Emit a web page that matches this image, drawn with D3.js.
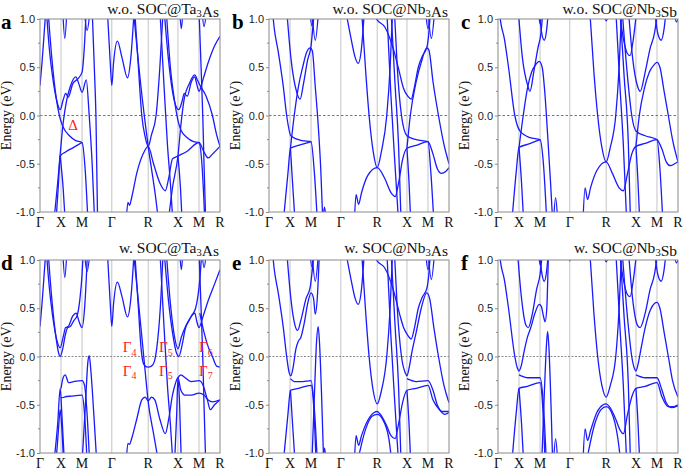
<!DOCTYPE html>
<html>
<head>
<meta charset="utf-8">
<script src="https://cdn.jsdelivr.net/npm/d3@7"></script>
<style>
  body { margin: 0; background: #fff; }
  svg { display: block; }
  .tick text { font-family: "Liberation Sans", Arial, sans-serif; font-size: 11px; fill: #222; }
</style>
</head>
<body>
<div id="container"></div>
<script>
/* CONSTANTS AND GLOBALS */
const width = 685;
const height = 470;
const colX = [40, 269, 498];
const rowY = [19, 260];
const titleY = [13.5, 252.5];
const pw = 180, ph = 193;

/* DATA */
// high symmetry points along the path (k in 2pi/a)
const kTicks = [0, 0.5, 1.0, 1.707, 2.573, 3.28, 3.78, 4.28];
const kLabels = ["Γ", "X", "M", "Γ", "R", "X", "M", "R"];
const eTicks = [-1.0, -0.5, 0.0, 0.5, 1.0];
const eMinor = [-0.75, -0.25, 0.25, 0.75];
const titles = ["w.o. SOC@Ta3As", "w.o. SOC@Nb3As", "w.o. SOC@Nb3Sb",
                "w. SOC@Ta3As", "w. SOC@Nb3As", "w. SOC@Nb3Sb"];
const letters = ["a", "b", "c", "d", "e", "f"];

// bands, each one list of [k, E]
const bandsA = [
  [[0,0.31],[0.05,0.56],[0.1,0.86],[0.14,1.1]],
  [[0.15,1.1],[0.22,0.7],[0.3,0.4],[0.4,0.15],[0.48,0.06],[0.55,0.16],[0.61,0.23],[0.67,0.19],[0.78,0.33],[0.9,0.38],[1.0,0.45],[1.06,0.75],[1.1,1.1]],
  [[0.19,1.1],[0.28,0.6],[0.38,0.2],[0.46,0.0],[0.55,-0.12],[0.7,-0.21],[0.85,-0.26],[1.0,-0.28],[1.08,-0.6],[1.14,-1.1]],
  [[0.33,-1.1],[0.42,-0.7],[0.48,-0.4],[0.55,-0.08],[0.63,0.15],[0.72,0.3],[0.85,0.4],[0.93,0.32],[1.0,0.24],[1.1,0.37],[1.17,0.0],[1.24,-0.5],[1.3,-1.1]],
  [[0.38,-1.1],[0.44,-0.7],[0.48,-0.42],[0.6,-0.38],[0.8,-0.33],[1.0,-0.28]],
  [[0.48,-0.42],[0.55,-0.75],[0.6,-1.1]],
  [[0.54,1.1],[0.59,0.8],[0.64,1.1]],
  [[1.05,1.1],[1.12,0.88],[1.19,1.1]],
  [[1.24,1.1],[1.3,0.4],[1.33,0.0],[1.37,-1.1]],
  [[1.6,1.1],[1.67,0.55],[1.707,0.31],[1.75,0.55],[1.84,0.77],[1.95,0.6],[2.08,0.39],[2.16,0.6],[2.24,1.1]],
  [[2.05,-1.1],[2.09,-0.9],[2.13,-0.93],[2.18,-0.85],[2.3,-0.6],[2.45,-0.4],[2.573,-0.32],[2.7,-0.5],[2.85,-0.7],[2.98,-0.78],[3.06,-0.65],[3.15,-0.45],[3.28,-0.42],[3.5,-0.37],[3.78,-0.28],[3.9,-0.38],[4.0,-0.44],[4.1,-0.4],[4.28,-0.32]],
  [[2.25,1.1],[2.34,0.5],[2.42,0.0],[2.5,-0.22],[2.573,-0.32],[2.65,-0.2],[2.76,0.0],[2.85,0.5],[2.93,1.1]],
  [[2.22,1.1],[2.4,0.3],[2.573,-0.32],[2.75,-0.85],[2.82,-1.1]],
  [[2.85,1.1],[2.95,0.3],[3.03,-0.3],[3.1,-0.7],[3.16,-1.1]],
  [[2.95,1.1],[3.05,0.6],[3.15,0.25],[3.25,0.08],[3.3,0.06],[3.38,0.15],[3.43,0.23],[3.5,0.2],[3.6,0.35],[3.68,0.4],[3.73,0.32],[3.78,0.25],[3.88,0.38],[4.0,0.55],[4.15,0.72],[4.28,0.82]],
  [[3.0,1.1],[3.1,0.5],[3.2,0.15],[3.28,-0.05],[3.35,-0.15],[3.5,-0.23],[3.65,-0.27],[3.78,-0.28],[3.85,-0.5],[3.92,-1.1]],
  [[3.05,-1.1],[3.15,-0.75],[3.28,-0.42],[3.35,-0.1],[3.42,0.15],[3.55,0.33],[3.68,0.42],[3.75,0.36],[3.82,0.3],[3.95,0.2],[4.1,0.0],[4.2,-0.2],[4.28,-0.32]],
  [[3.28,-0.42],[3.34,-0.75],[3.38,-1.1]],
  [[3.78,1.1],[3.83,0.5],[3.87,0.0],[3.9,-0.5],[3.94,-1.1]],
  [[3.32,1.1],[3.36,0.9],[3.4,1.1]],
  [[3.85,1.1],[3.9,0.92],[3.96,1.1]]
];

const bandsB = [
  [[0.08,1.1],[0.12,0.92],[0.22,0.66],[0.34,0.3],[0.42,0.0],[0.52,-0.21],[0.78,-0.26],[1.0,-0.27],[1.08,-0.6],[1.15,-1.1]],
  [[0.34,-1.1],[0.45,-0.6],[0.51,-0.34],[0.7,-0.31],[1.0,-0.27]],
  [[0.51,-0.34],[0.6,0.0],[0.7,0.3],[0.8,0.5],[0.9,0.66],[0.98,0.7],[1.03,0.67],[1.1,0.3],[1.17,-0.1],[1.23,-0.55],[1.28,-1.1]],
  [[0.51,-0.34],[0.56,-0.7],[0.62,-1.1]],
  [[0.42,1.1],[0.52,0.6],[0.66,0.24],[0.74,0.17],[0.82,0.33],[0.92,0.58],[1.0,0.72],[1.04,0.9],[1.08,1.1]],
  [[0.97,1.1],[1.02,0.93],[1.07,1.1]],
  [[1.02,1.1],[1.1,0.78],[1.18,1.1]],
  [[1.28,-1.1],[1.32,-0.95],[1.36,-1.1]],
  [[1.82,1.1],[1.95,0.8],[2.05,0.6],[2.12,0.54],[2.2,0.7],[2.27,1.1]],
  [[2.2,1.1],[2.3,0.45],[2.38,0.0],[2.48,-0.38],[2.573,-0.54],[2.67,-0.38],[2.8,0.0],[2.88,0.5],[2.94,1.1]],
  [[2.03,-1.1],[2.07,-0.82],[2.13,-0.92],[2.2,-0.8],[2.35,-0.62],[2.573,-0.54],[2.75,-0.65],[2.9,-0.8],[3.0,-0.84],[3.08,-0.7],[3.18,-0.45],[3.28,-0.34],[3.5,-0.31],[3.78,-0.27],[3.85,-0.6],[3.92,-1.1]],
  [[2.45,1.1],[2.573,0.99],[2.75,0.92],[2.95,0.7],[3.1,0.45],[3.2,0.28],[3.3,0.2],[3.38,0.17],[3.46,0.3],[3.55,0.5],[3.65,0.62],[3.75,0.7],[3.8,0.85],[3.84,1.1]],
  [[2.8,1.1],[2.9,0.2],[2.98,-0.4],[3.08,-1.1]],
  [[2.9,1.1],[3.0,0.3],[3.08,-0.3],[3.14,-1.1]],
  [[2.98,1.1],[3.05,0.5],[3.15,0.0],[3.28,-0.21],[3.5,-0.25],[3.78,-0.27],[3.9,-0.4],[4.0,-0.55],[4.1,-0.6],[4.2,-0.58],[4.28,-0.54]],
  [[3.28,-0.34],[3.33,-0.7],[3.37,-1.1]],
  [[3.28,-0.34],[3.36,0.0],[3.5,0.35],[3.62,0.55],[3.75,0.7],[3.8,0.68],[3.9,0.35],[4.03,0.0],[4.16,-0.3],[4.28,-0.5]],
  [[3.72,1.1],[3.78,0.9],[3.84,1.1]],
  [[3.78,1.1],[3.86,0.8],[3.94,1.1]]
];

const bandsC = [
  [[0.03,1.1],[0.06,0.98],[0.15,0.8],[0.25,0.5],[0.4,0.0],[0.52,-0.16],[0.76,-0.23],[1.0,-0.25],[1.08,-0.5],[1.16,-1.1]],
  [[0.33,-1.1],[0.43,-0.6],[0.5,-0.33],[0.7,-0.3],[1.0,-0.25]],
  [[0.5,-0.33],[0.56,-0.7],[0.61,-1.1]],
  [[0.5,-0.33],[0.6,0.0],[0.7,0.28],[0.8,0.45],[0.9,0.53],[0.98,0.56],[1.05,0.5],[1.12,0.2],[1.18,-0.2],[1.25,-0.7],[1.3,-1.1]],
  [[0.48,1.1],[0.58,0.6],[0.7,0.32],[0.76,0.25],[0.85,0.45],[0.95,0.7],[1.02,0.85],[1.07,1.1]],
  [[0.98,1.1],[1.04,0.85],[1.1,0.78],[1.16,0.9],[1.2,1.1]],
  [[0.96,1.1],[1.0,0.95],[1.04,1.1]],
  [[1.32,-1.1],[1.37,-0.85],[1.42,-1.1]],
  [[2.18,1.1],[2.28,0.45],[2.37,0.0],[2.47,-0.33],[2.573,-0.48],[2.67,-0.33],[2.8,0.0],[2.88,0.5],[2.94,1.1]],
  [[2.02,-1.1],[2.07,-0.75],[2.13,-0.87],[2.2,-0.75],[2.35,-0.57],[2.573,-0.48],[2.72,-0.6],[2.88,-0.75],[2.98,-0.78],[3.08,-0.6],[3.18,-0.4],[3.28,-0.32],[3.5,-0.29],[3.78,-0.25],[3.85,-0.55],[3.92,-1.1]],
  [[2.88,1.1],[2.98,0.8],[3.08,0.64],[3.14,0.62],[3.22,0.8],[3.3,1.1]],
  [[2.5,1.1],[2.573,0.98],[2.65,1.1]],
  [[2.8,1.1],[2.9,0.3],[2.98,-0.3],[3.06,-1.1]],
  [[2.9,1.1],[3.0,0.4],[3.1,-0.3],[3.15,-1.1]],
  [[2.95,1.1],[3.08,0.4],[3.18,0.0],[3.28,-0.16],[3.5,-0.21],[3.78,-0.25],[3.9,-0.35],[4.0,-0.48],[4.1,-0.52],[4.2,-0.5],[4.28,-0.48]],
  [[3.28,-0.32],[3.36,0.0],[3.48,0.28],[3.6,0.45],[3.72,0.53],[3.78,0.55],[3.85,0.5],[3.95,0.25],[4.05,0.0],[4.15,-0.25],[4.28,-0.48]],
  [[3.28,-0.32],[3.33,-0.7],[3.37,-1.1]],
  [[3.1,1.1],[3.2,0.6],[3.32,0.3],[3.38,0.25],[3.5,0.45],[3.62,0.7],[3.72,0.85],[3.8,1.1]],
  [[3.72,1.1],[3.8,0.85],[3.88,0.78],[3.95,0.9],[4.0,1.1]],
  [[4.18,1.1],[4.24,0.97],[4.28,1.0]]
];

const bandsD = [
  [[0,0.31],[0.05,0.56],[0.1,0.86],[0.14,1.1]],
  [[0.15,1.1],[0.22,0.72],[0.3,0.42],[0.4,0.17],[0.48,0.09],[0.55,0.2],[0.61,0.3],[0.67,0.31],[0.78,0.42],[0.86,0.45],[0.93,0.36],[1.0,0.3],[1.06,0.5],[1.1,0.8],[1.13,1.1]],
  [[0.19,1.1],[0.28,0.6],[0.38,0.2],[0.44,0.04],[0.48,0.0],[0.54,0.08],[0.6,0.22],[0.66,0.3],[0.72,0.31],[0.8,0.37],[0.88,0.42],[0.95,0.6],[1.0,0.85],[1.03,1.1]],
  [[0.33,-1.1],[0.42,-0.7],[0.48,-0.33],[0.52,-0.6],[0.58,-1.1]],
  [[0.38,-1.1],[0.44,-0.75],[0.48,-0.55],[0.52,-0.75],[0.56,-1.1]],
  [[0.5,-0.33],[0.55,-0.22],[0.6,-0.19],[0.68,-0.27],[0.8,-0.26],[1.0,-0.25],[1.06,-0.3],[1.12,-0.6],[1.18,-1.1]],
  [[0.5,-0.43],[0.58,-0.42],[0.75,-0.41],[1.0,-0.4],[1.06,-0.6],[1.12,-1.1]],
  [[1.0,-1.1],[1.08,-0.5],[1.14,-0.05],[1.17,0.01],[1.21,-0.15],[1.28,-0.6],[1.35,-1.1]],
  [[0.54,1.1],[0.59,0.82],[0.64,1.1]],
  [[1.05,1.1],[1.12,0.88],[1.19,1.1]],
  [[1.6,1.1],[1.67,0.55],[1.707,0.31],[1.75,0.55],[1.84,0.77],[1.95,0.62],[2.08,0.41],[2.16,0.6],[2.24,1.1]],
  [[2.05,-1.1],[2.09,-0.9],[2.13,-0.91],[2.18,-0.85],[2.3,-0.65],[2.42,-0.45],[2.5,-0.42],[2.573,-0.46],[2.65,-0.42],[2.73,-0.45],[2.85,-0.65],[2.98,-0.8],[3.06,-0.65],[3.15,-0.4],[3.22,-0.28],[3.28,-0.22],[3.35,-0.35],[3.45,-0.4],[3.6,-0.4],[3.78,-0.38],[3.9,-0.4],[4.0,-0.45],[4.1,-0.47],[4.28,-0.45]],
  [[2.25,1.1],[2.34,0.5],[2.4,0.1],[2.45,-0.06],[2.5,-0.1],[2.573,-0.11],[2.65,-0.1],[2.72,-0.05],[2.78,0.1],[2.86,0.5],[2.93,1.1]],
  [[2.22,1.1],[2.4,0.3],[2.5,-0.15],[2.573,-0.47],[2.7,-0.8],[2.82,-1.1]],
  [[2.85,1.1],[2.95,0.3],[3.03,-0.3],[3.1,-0.7],[3.16,-1.1]],
  [[2.95,1.1],[3.05,0.6],[3.15,0.25],[3.25,0.03],[3.3,0.0],[3.38,0.12],[3.45,0.28],[3.55,0.38],[3.68,0.45],[3.73,0.36],[3.78,0.3],[3.88,0.42],[4.0,0.58],[4.15,0.75],[4.28,0.9]],
  [[3.0,1.1],[3.1,0.55],[3.2,0.2],[3.28,0.08],[3.36,0.2],[3.45,0.3],[3.6,0.42],[3.7,0.5],[3.8,0.8],[3.85,1.1]],
  [[3.2,-1.1],[3.25,-0.6],[3.28,-0.22],[3.32,-0.5],[3.36,-1.1]],
  [[3.28,-0.22],[3.35,-0.19],[3.45,-0.22],[3.6,-0.26],[3.78,-0.25],[3.88,-0.3],[3.98,-0.45],[4.05,-0.55],[4.15,-0.5],[4.28,-0.45]],
  [[3.8,0.45],[3.9,0.25],[4.0,0.1],[4.1,0.0],[4.2,-0.1],[4.28,-0.11]],
  [[3.78,1.1],[3.83,0.5],[3.87,0.0],[3.9,-0.5],[3.94,-1.1]],
  [[3.32,1.1],[3.36,0.9],[3.4,1.1]],
  [[3.85,1.1],[3.9,0.92],[3.96,1.1]]
];

const bandsE = [
  [[0.08,1.1],[0.12,0.92],[0.22,0.66],[0.34,0.3],[0.42,0.0],[0.48,-0.17],[0.52,-0.2],[0.57,-0.12],[0.64,0.08],[0.7,0.16],[0.76,0.2],[0.84,0.35],[0.92,0.55],[1.0,0.66],[1.06,0.6],[1.1,0.44],[1.15,0.62],[1.2,1.1]],
  [[0.51,-0.23],[0.6,-0.26],[0.8,-0.26],[1.0,-0.25],[1.08,-0.55],[1.15,-1.1]],
  [[0.34,-1.1],[0.45,-0.6],[0.51,-0.35],[0.7,-0.33],[1.0,-0.3],[1.06,-0.5],[1.12,-1.1]],
  [[0.51,-0.35],[0.56,-0.7],[0.62,-1.1]],
  [[0.42,1.1],[0.52,0.6],[0.62,0.32],[0.68,0.27],[0.76,0.38],[0.88,0.6],[0.98,0.72],[1.03,0.9],[1.07,1.1]],
  [[1.02,-1.1],[1.08,-0.4],[1.13,0.15],[1.17,0.31],[1.2,0.15],[1.25,-0.4],[1.3,-1.1]],
  [[0.97,1.1],[1.02,0.93],[1.07,1.1]],
  [[1.02,1.1],[1.1,0.78],[1.18,1.1]],
  [[1.28,-1.1],[1.32,-0.95],[1.36,-1.1]],
  [[1.82,1.1],[1.95,0.8],[2.05,0.6],[2.12,0.54],[2.2,0.7],[2.27,1.1]],
  [[2.2,1.1],[2.3,0.45],[2.38,0.0],[2.48,-0.36],[2.573,-0.49],[2.67,-0.36],[2.8,0.0],[2.88,0.5],[2.94,1.1]],
  [[2.03,-1.1],[2.07,-0.82],[2.13,-0.92],[2.2,-0.82],[2.35,-0.66],[2.5,-0.58],[2.573,-0.57],[2.65,-0.6],[2.8,-0.72],[2.9,-0.82],[3.0,-0.85],[3.08,-0.7],[3.18,-0.47],[3.28,-0.35],[3.5,-0.33],[3.78,-0.3],[3.9,-0.45],[4.05,-0.55],[4.18,-0.6],[4.28,-0.58]],
  [[2.1,-1.1],[2.3,-0.75],[2.45,-0.62],[2.573,-0.6],[2.7,-0.65],[2.85,-0.85],[2.92,-1.1]],
  [[2.45,1.1],[2.573,0.99],[2.75,0.92],[2.95,0.7],[3.1,0.45],[3.2,0.3],[3.3,0.22],[3.38,0.18],[3.46,0.3],[3.55,0.5],[3.65,0.62],[3.75,0.7],[3.8,0.85],[3.84,1.1]],
  [[2.8,1.1],[2.9,0.2],[2.98,-0.4],[3.08,-1.1]],
  [[2.9,1.1],[3.0,0.3],[3.08,-0.3],[3.14,-1.1]],
  [[2.98,1.1],[3.05,0.5],[3.15,0.0],[3.24,-0.17],[3.28,-0.2],[3.33,-0.12],[3.4,0.05],[3.5,0.25],[3.62,0.5],[3.75,0.66],[3.82,0.6],[3.92,0.3],[4.03,0.0],[4.16,-0.3],[4.28,-0.48]],
  [[3.28,-0.23],[3.5,-0.26],[3.78,-0.25],[3.9,-0.35],[4.0,-0.5],[4.12,-0.57],[4.28,-0.57]],
  [[3.28,-0.35],[3.33,-0.7],[3.37,-1.1]],
  [[3.72,1.1],[3.78,0.9],[3.84,1.1]],
  [[3.78,1.1],[3.86,0.8],[3.94,1.1]]
];

const bandsF = [
  [[0.03,1.1],[0.06,0.98],[0.15,0.8],[0.25,0.5],[0.4,0.0],[0.46,-0.12],[0.5,-0.15],[0.55,-0.1],[0.62,0.05],[0.7,0.2],[0.78,0.3],[0.88,0.45],[0.98,0.54],[1.03,0.52],[1.08,0.42],[1.12,0.36],[1.16,0.5],[1.2,1.1]],
  [[0.5,-0.19],[0.55,-0.2],[0.7,-0.22],[1.0,-0.22],[1.08,-0.5],[1.15,-1.1]],
  [[0.33,-1.1],[0.43,-0.6],[0.5,-0.33],[0.7,-0.31],[1.0,-0.27],[1.06,-0.5],[1.12,-1.1]],
  [[0.5,-0.33],[0.56,-0.7],[0.61,-1.1]],
  [[0.46,1.1],[0.56,0.6],[0.66,0.33],[0.72,0.3],[0.82,0.45],[0.92,0.7],[1.0,0.85],[1.06,1.1]],
  [[1.04,-1.1],[1.1,-0.4],[1.15,0.1],[1.18,0.26],[1.21,0.1],[1.26,-0.5],[1.3,-1.1]],
  [[0.98,1.1],[1.04,0.87],[1.1,0.78],[1.16,0.9],[1.2,1.1]],
  [[0.96,1.1],[1.0,0.95],[1.04,1.1]],
  [[1.32,-1.1],[1.37,-0.85],[1.42,-1.1]],
  [[1.68,1.1],[1.707,0.99],[1.73,1.1]],
  [[2.18,1.1],[2.28,0.45],[2.37,0.0],[2.47,-0.3],[2.573,-0.42],[2.67,-0.3],[2.8,0.0],[2.88,0.5],[2.94,1.1]],
  [[2.02,-1.1],[2.07,-0.75],[2.13,-0.87],[2.2,-0.77],[2.35,-0.58],[2.5,-0.5],[2.573,-0.49],[2.65,-0.52],[2.8,-0.65],[2.9,-0.76],[2.98,-0.8],[3.08,-0.6],[3.18,-0.42],[3.28,-0.33],[3.5,-0.31],[3.78,-0.27],[3.9,-0.42],[4.05,-0.52],[4.18,-0.52],[4.28,-0.5]],
  [[2.1,-1.1],[2.3,-0.7],[2.45,-0.55],[2.573,-0.52],[2.7,-0.58],[2.85,-0.85],[2.92,-1.1]],
  [[2.88,1.1],[2.98,0.8],[3.08,0.64],[3.14,0.62],[3.22,0.8],[3.3,1.1]],
  [[2.5,1.1],[2.573,0.98],[2.65,1.1]],
  [[2.8,1.1],[2.9,0.3],[2.98,-0.3],[3.06,-1.1]],
  [[2.9,1.1],[3.0,0.4],[3.1,-0.3],[3.15,-1.1]],
  [[2.95,1.1],[3.08,0.4],[3.18,0.0],[3.24,-0.12],[3.28,-0.15],[3.33,-0.08],[3.4,0.08],[3.5,0.3],[3.62,0.48],[3.72,0.55],[3.78,0.56],[3.85,0.5],[3.95,0.25],[4.05,0.0],[4.15,-0.25],[4.28,-0.42]],
  [[3.28,-0.19],[3.5,-0.22],[3.78,-0.22],[3.9,-0.35],[4.0,-0.48],[4.12,-0.53],[4.28,-0.51]],
  [[3.28,-0.33],[3.33,-0.7],[3.37,-1.1]],
  [[3.1,1.1],[3.2,0.6],[3.32,0.32],[3.38,0.3],[3.5,0.45],[3.62,0.7],[3.72,0.85],[3.8,1.1]],
  [[3.72,1.1],[3.8,0.85],[3.88,0.78],[3.95,0.9],[4.0,1.1]],
  [[4.18,1.1],[4.24,0.97],[4.28,1.0]]
];

// red annotations: [panel index, symbol, subscript, k, E]
const notes = [
  [0, "Δ", "", 0.67, -0.15],
  [3, "Γ", "4", 1.97, 0.045],
  [3, "Γ", "4", 1.97, -0.2],
  [3, "Γ", "5", 2.83, 0.045],
  [3, "Γ", "5", 2.83, -0.2],
  [3, "Γ", "6", 3.78, 0.045],
  [3, "Γ", "7", 3.78, -0.2]
];

const allBands = [bandsA, bandsB, bandsC, bandsD, bandsE, bandsF];

/* DRAW */
const svg = d3.select("#container")
  .append("svg")
  .attr("width", width)
  .attr("height", height);

const serif = "'Liberation Serif', 'Times New Roman', serif";

allBands.forEach((bands, i) => {
  const row = Math.floor(i / 3);
  const x0 = colX[i % 3];
  const y0 = rowY[row];

  const xScale = d3.scaleLinear().domain([0, 4.28]).range([x0, x0 + pw]);
  const yScale = d3.scaleLinear().domain([-1, 1]).range([y0 + ph, y0]);

  const g = svg.append("g");

  // grid lines at high symmetry points
  g.selectAll(".grid")
    .data(kTicks.slice(1, -1))
    .join("line")
    .attr("x1", d => xScale(d)).attr("x2", d => xScale(d))
    .attr("y1", y0).attr("y2", y0 + ph)
    .attr("stroke", "#c4c4c4")
    .attr("stroke-width", 1);

  // fermi level
  g.append("line")
    .attr("x1", x0).attr("x2", x0 + pw)
    .attr("y1", yScale(0)).attr("y2", yScale(0))
    .attr("stroke", row === 0 ? "#555" : "#888")
    .attr("stroke-width", row === 0 ? 0.8 : 1.1)
    .attr("stroke-dasharray", row === 0 ? "2.5,2" : "2,1.5");

  // clip
  svg.append("clipPath").attr("id", "clip" + i)
    .append("rect").attr("x", x0).attr("y", y0).attr("width", pw).attr("height", ph);

  const line = d3.line()
    .x(d => xScale(d[0]))
    .y(d => yScale(d[1]))
    .curve(d3.curveMonotoneX);

  g.append("g")
    .attr("clip-path", "url(#clip" + i + ")")
    .selectAll("path")
    .data(bands)
    .join("path")
    .attr("d", line)
    .attr("fill", "none")
    .attr("stroke", "#1a1aff")
    .attr("stroke-width", 1.3);

  // frame
  g.append("rect")
    .attr("x", x0).attr("y", y0).attr("width", pw).attr("height", ph)
    .attr("fill", "none").attr("stroke", "#8a8a8a").attr("stroke-width", 1);

  // y axis
  const yAxis = d3.axisLeft(yScale)
    .tickValues(eTicks)
    .tickFormat(d => d.toFixed(1))
    .tickSize(3)
    .tickPadding(2);
  const ax = g.append("g")
    .attr("transform", "translate(" + x0 + ",0)")
    .call(yAxis);
  ax.select(".domain").remove();
  ax.selectAll(".tick line").attr("stroke", "#8a8a8a");

  g.selectAll(".minor")
    .data(eMinor)
    .join("line")
    .attr("x1", x0 - 2).attr("x2", x0)
    .attr("y1", d => yScale(d)).attr("y2", d => yScale(d))
    .attr("stroke", "#8a8a8a");

  // k labels
  g.selectAll(".klab")
    .data(kTicks)
    .join("text")
    .attr("x", d => xScale(d))
    .attr("y", y0 + ph + 15)
    .attr("text-anchor", "middle")
    .style("font-family", serif)
    .style("font-size", "14px")
    .attr("fill", "#111")
    .text((d, j) => kLabels[j]);

  // y label
  g.append("text")
    .attr("transform", "translate(" + (x0 - 29) + "," + (y0 + ph / 2) + ") rotate(-90)")
    .attr("text-anchor", "middle")
    .style("font-family", serif)
    .style("font-size", "14px")
    .attr("fill", "#111")
    .text("Energy (eV)");

  // title with subscript digit
  const title = g.append("text")
    .attr("x", x0 + 179)
    .attr("y", titleY[row])
    .attr("text-anchor", "end")
    .style("font-family", serif)
    .style("font-size", "15.5px")
    .attr("fill", "#111");
  titles[i].split(/(\d)/).forEach(part => {
    if (/^\d$/.test(part)) {
      title.append("tspan").attr("dy", 3.5).style("font-size", "10.5px").text(part);
      title.append("tspan").attr("dy", -3.5).text("");
    } else if (part) {
      title.append("tspan").text(part);
    }
  });

  // panel letter
  g.append("text")
    .attr("x", i % 3 === 0 ? x0 - 39 : x0 - 37)
    .attr("y", y0 + 10)
    .style("font-family", serif)
    .style("font-size", "21px")
    .style("font-weight", "bold")
    .attr("fill", "#000")
    .text(letters[i]);

  // annotations
  notes.filter(n => n[0] === i).forEach(n => {
    const t = g.append("text")
      .attr("x", xScale(n[3]))
      .attr("y", yScale(n[4]))
      .style("font-family", serif)
      .style("font-size", "15px")
      .attr("fill", "#ff1a1a")
      .text(n[1]);
    if (n[2]) t.append("tspan").attr("dy", 3.5).style("font-size", "10px").text(n[2]);
  });
});
</script>
</body>
</html>
